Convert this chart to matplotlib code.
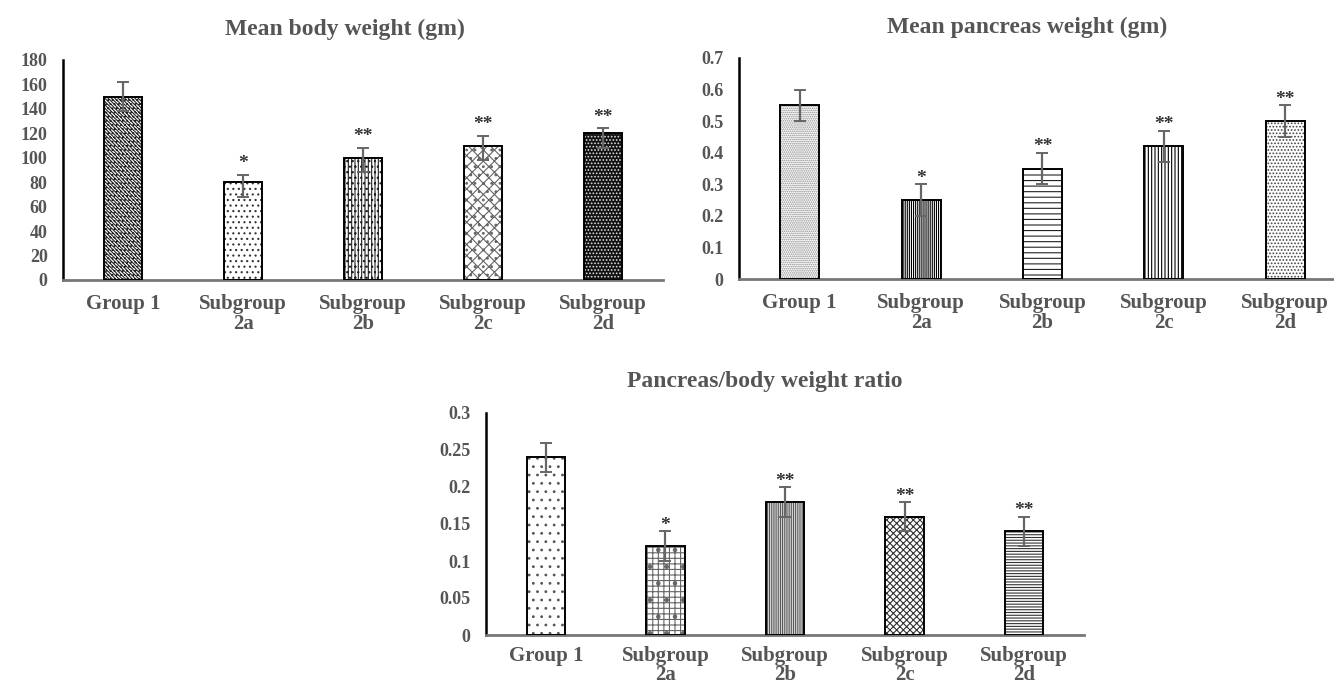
import matplotlib
matplotlib.use("Agg")
import matplotlib.pyplot as plt
import numpy as np

# ---- data ----
categories = ["Group 1", "Subgroup\n2a", "Subgroup\n2b", "Subgroup\n2c", "Subgroup\n2d"]
significance = ["", "*", "**", "**", "**"]

body_weight = [150, 80, 100, 110, 120]
body_err_low = [12, 12, 12, 12, 12]
body_err_high = [12, 6, 8, 8, 4]

pancreas_weight = [0.55, 0.25, 0.35, 0.42, 0.50]
pancreas_err = [0.05, 0.05, 0.05, 0.05, 0.05]

ratio = [0.24, 0.12, 0.18, 0.16, 0.14]
ratio_err = [0.02, 0.02, 0.02, 0.02, 0.02]

titles = ["Mean body weight (gm)", "Mean pancreas weight (gm)", "Pancreas/body weight ratio"]

plt.rcParams['font.family'] = ['Liberation Serif', 'DejaVu Serif']
plt.rcParams['font.weight'] = 'bold'
plt.rcParams['hatch.linewidth'] = 0.8

TXT = '#555555'
W, H = 1334, 684
fig = plt.figure(figsize=(W / 100, H / 100), dpi=100)

def fx(px):
    return px / W

def fy(py):
    return 1 - py / H

def make_axes(left, right, y0, ytop):
    return fig.add_axes([fx(left), fy(y0), fx(right - left), (y0 - ytop) / H])

# styles: (facecolor, hatchcolor, hatch)
styles1 = [('white', '#222222', '\\\\\\\\\\\\\\\\\\\\....'),
           ('white', '#333333', '...'),
           ('white', '#222222', '|||||...'),
           ('white', '#666666', 'xxx..'),
           ('#111111', '#dddddd', '.....')]
styles2 = [('white', '#888888', '........'),
           ('white', '#000000', '||||||||'),
           ('white', '#222222', '---'),
           ('white', '#000000', '|||||'),
           ('white', '#444444', '.....')]
styles3 = [('white', '#555555', '..'),
           ('white', '#666666', '+++.'),
           ('white', '#555555', '|||||||||'),
           ('white', '#333333', 'xxxxx'),
           ('white', '#333333', '------')]

def draw(ax, values, err_lo, err_hi, ymax, ystep, styles, star_pts, xpad, lsp):
    x = np.arange(len(values))
    for i, (v, st) in enumerate(zip(values, styles)):
        fc, hc, hatch = st
        ax.bar(x[i], v, width=0.32, color=fc, edgecolor=hc, hatch=hatch, linewidth=0, zorder=2)
        ax.bar(x[i], v, width=0.32, fill=False, edgecolor='black', linewidth=1.4, zorder=3)
    ax.errorbar(x, values, yerr=[err_lo, err_hi], fmt='none', ecolor='#666666',
                elinewidth=1.6, capsize=4, capthick=1.4, zorder=4)
    for i, s in enumerate(significance):
        if s:
            ax.annotate(s, (x[i], values[i] + err_hi[i]), xytext=(0, star_pts),
                        textcoords='offset points', ha='center', va='bottom',
                        fontsize=14, color='#333333', fontweight='bold')
    ax.set_xlim(-0.5, len(values) - 0.5)
    ax.set_ylim(0, ymax)
    ticks = np.round(np.arange(0, ymax + ystep / 2, ystep), 4)
    ax.set_yticks(ticks)
    ax.set_yticklabels([f"{t:g}" for t in ticks])
    ax.set_xticks(x)
    ax.set_xticklabels(categories, linespacing=lsp)
    ax.tick_params(axis='y', length=0, pad=11, labelsize=13, labelcolor=TXT)
    ax.tick_params(axis='x', length=0, pad=xpad, labelsize=15, labelcolor=TXT)
    for lab in ax.get_xticklabels() + ax.get_yticklabels():
        lab.set_fontweight('bold')
    ax.spines['top'].set_visible(False)
    ax.spines['right'].set_visible(False)
    ax.spines['left'].set_color('black')
    ax.spines['left'].set_linewidth(1.8)
    ax.spines['bottom'].set_color('#777777')
    ax.spines['bottom'].set_linewidth(2.0)
    ax.patch.set_alpha(0)

ax1 = make_axes(63, 663, 280, 60)
draw(ax1, body_weight, body_err_low, body_err_high, 180, 20, styles1, 2, 10, 1.0)

ax2 = make_axes(739, 1346, 279, 58)
draw(ax2, pancreas_weight, pancreas_err, pancreas_err, 0.7, 0.1, styles2, -2, 10, 1.0)

ax3 = make_axes(486, 1084, 635, 413)
draw(ax3, ratio, ratio_err, ratio_err, 0.3, 0.05, styles3, -2, 8, 0.9)

fig.text(fx(345), fy(29), titles[0], ha='center', va='center', fontsize=17,
         fontweight='bold', color=TXT)
fig.text(fx(1027), fy(27), titles[1], ha='center', va='center', fontsize=17,
         fontweight='bold', color=TXT)
fig.text(fx(765), fy(382), titles[2], ha='center', va='center', fontsize=17,
         fontweight='bold', color=TXT)

fig.savefig("out.png", dpi=100, facecolor='white')
